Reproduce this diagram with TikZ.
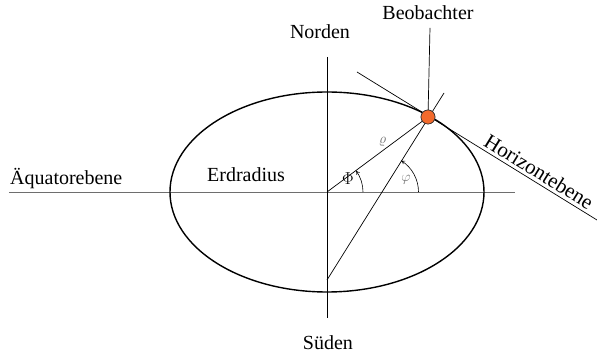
\documentclass[tikz,border=0pt]{standalone}
\usepackage{fontspec}
\setmainfont{Liberation Serif}
\usepackage{xcolor}
\definecolor{erdorange}{HTML}{F26A2C}
\definecolor{erdgrau}{HTML}{6E6E6E}
\usetikzlibrary{arrows.meta}
\tikzset{
  erdlinie/.style={draw,line width=1.4pt},
  erddunn/.style={draw,line width=0.7pt},
  erdachse/.style={draw,erdgrau,line width=0.9pt},
  erdtext/.style={font=\fontsize{20}{24}\selectfont,inner sep=0pt},
  erdwinkel/.style={draw,line width=0.6pt,-{To[length=4pt,width=4pt]}},
  erdklein/.style={font=\fontsize{14}{16}\selectfont,text=erdgrau,inner sep=0pt},
  beobpunkt/.style={circle,draw=black!80,line width=0.6pt,fill=erdorange,minimum size=14pt,inner sep=0pt},
}
\begin{document}
\begin{tikzpicture}[x=1pt,y=1pt]
\useasboundingbox (-327,-163) rectangle (270,192);
\coordinate (m) at (0,0);
% Achsen
\coordinate (aq1) at (-318,0);\coordinate (aq2) at (188,0);
\coordinate (nd) at (0,135);\coordinate (sd) at (0,-126);
\draw[erdachse](aq1)--(aq2);
\draw[erddunn](nd)--(sd);
\draw[erdlinie](m) ellipse[x radius=157,y radius=100];
% Beobachter und Geraden
\node[beobpunkt] (beob) at (101,75) {};
\coordinate (nu) at (0,-88);\coordinate (no) at (117,99);
\coordinate (hz1) at (30,120);\coordinate (hz2) at (270,-28);
\coordinate (bo) at (103,164);
\draw[erddunn](m)--(beob.center) node[erdklein,pos=0.55,above=4pt]{$\varrho$};
\draw[erddunn](nu)--(no);
\draw[erddunn](hz1)--node[erdtext,font=\fontsize{21}{24}\selectfont,sloped,above=3pt,pos=0.735]{Horizontebene}(hz2);
\draw[erddunn](beob.center)--(bo);
\node[beobpunkt] at (beob) {};
% Winkel
\draw[erdwinkel](36,0) arc[start angle=0,end angle=36.6,radius=36];
\draw[erdwinkel](91.5,0) arc[start angle=0,end angle=58.2,radius=37];
\node[font=\fontsize{17}{19}\selectfont,inner sep=0pt] (phig) at (21,13) {$\Phi$};
\node[erdklein] (phik) at (79,12) {$\varphi$};
% Beschriftungen
\node[erdtext] (norden) at (-7,160) {Norden};
\node[erdtext] (sueden) at (1,-151) {Süden};
\node[erdtext] (beobt) at (101,179) {Beobachter};
\node[erdtext,anchor=base west] (aequ) at (-317,7) {Äquatorebene};
\node[erdtext,anchor=base west] (erdr) at (-120,10) {Erdradius};
\end{tikzpicture}
\end{document}
